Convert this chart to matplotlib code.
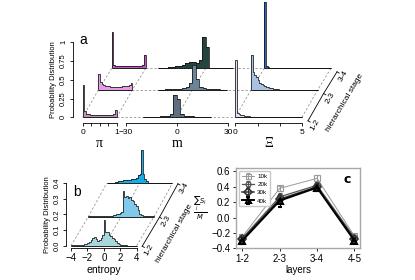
import numpy as np
import matplotlib.pyplot as plt

plt.rcParams['font.family'] = ['Liberation Sans', 'DejaVu Sans']

# ---------------- data ----------------
stages = ['1-2', '2-3', '3-4']

# panel a: probability per bin, one list per hierarchical stage
pi_edges = np.linspace(0, 1, 21)
pi_12 = [0.43, 0.08, 0.05, 0.04, 0.035, 0.03, 0.03, 0.028, 0.028, 0.027,
         0.027, 0.027, 0.028, 0.028, 0.03, 0.03, 0.032, 0.035, 0.04, 0.10]
pi_23 = [0.22, 0.11, 0.08, 0.065, 0.055, 0.05, 0.047, 0.045, 0.043, 0.042,
         0.042, 0.042, 0.043, 0.045, 0.047, 0.05, 0.053, 0.057, 0.065, 0.09]
pi_34 = [0.49, 0.05, 0.035, 0.03, 0.028, 0.026, 0.025, 0.025, 0.025, 0.025,
         0.025, 0.025, 0.026, 0.027, 0.028, 0.03, 0.033, 0.037, 0.045, 0.18]

m_edges = np.linspace(-30, 30, 31)
m_12 = [0, 0, 0, 0, 0, 0.004, 0.005, 0.006, 0.008, 0.010,
        0.013, 0.017, 0.024, 0.040, 0.300, 0.250, 0.040, 0.024, 0.017, 0.013,
        0.010, 0.008, 0.006, 0.005, 0.004, 0, 0, 0, 0, 0]
m_23 = [0, 0, 0, 0, 0, 0.005, 0.006, 0.008, 0.010, 0.012,
        0.015, 0.020, 0.027, 0.040, 0.090, 0.330, 0.150, 0.045, 0.028, 0.020,
        0.015, 0.011, 0.008, 0.006, 0.005, 0, 0, 0, 0, 0]
m_34 = [0, 0.003, 0.005, 0.008, 0.012, 0.018, 0.025, 0.035, 0.050, 0.065,
        0.085, 0.090, 0.075, 0.110, 0.420, 0.280, 0.010, 0.006, 0.005, 0.004,
        0.003, 0.003, 0.002, 0, 0, 0, 0, 0, 0, 0]

xi_edges = np.linspace(0, 5, 41)
xi_12 = [0.77, 0.06, 0.045, 0.035, 0.028, 0.022, 0.018, 0.014, 0.011, 0.009,
         0.007, 0.006, 0.005, 0.004, 0.004, 0.003, 0.003, 0.002, 0.002, 0.002,
         0.002, 0.002, 0.001, 0.001, 0.001, 0.001, 0.001, 0.001, 0.001, 0.001,
         0.001, 0.001, 0.001, 0.001, 0.001, 0.001, 0.001, 0.001, 0.001, 0.001]
xi_23 = [0.47, 0.24, 0.20, 0.17, 0.13, 0.10, 0.085, 0.07, 0.055, 0.045,
         0.035, 0.028, 0.022, 0.017, 0.013, 0.010, 0.008, 0.006, 0.005, 0.004,
         0.003, 0.003, 0.003, 0.003, 0.003, 0.002, 0.002, 0.002, 0.002, 0.002,
         0.002, 0.002, 0.002, 0.002, 0.002, 0.002, 0.002, 0.002, 0.002, 0.002]
xi_34 = [0.89, 0.035, 0.018, 0.010, 0.006, 0.004, 0.003, 0.002, 0.002, 0.002,
         0.002, 0.002, 0.002, 0.002, 0.002, 0.002, 0.002, 0.002, 0.002, 0.002,
         0.002, 0.002, 0.002, 0.002, 0.002, 0.002, 0.002, 0.002, 0.002, 0.002,
         0.002, 0.002, 0.002, 0.002, 0.002, 0.002, 0.002, 0.002, 0.002, 0.002]

# panel b: entropy
ent_edges = np.linspace(-4, 4, 41)
ent_12 = [0.002, 0.002, 0.002, 0.003, 0.003, 0.004, 0.005, 0.007, 0.010, 0.013,
          0.018, 0.025, 0.035, 0.050, 0.058, 0.040, 0.030, 0.035, 0.050, 0.070,
          0.165, 0.090, 0.085, 0.070, 0.060, 0.050, 0.040, 0.030, 0.020, 0.012,
          0.007, 0.004, 0.003, 0.002, 0.001, 0.001, 0.001, 0.001, 0.001, 0.001]
ent_23 = [0.002, 0.002, 0.002, 0.002, 0.002, 0.002, 0.002, 0.002, 0.002, 0.002,
          0.002, 0.003, 0.004, 0.005, 0.007, 0.009, 0.012, 0.015, 0.020, 0.025,
          0.030, 0.165, 0.125, 0.135, 0.120, 0.125, 0.105, 0.100, 0.080, 0.070,
          0.045, 0.020, 0.008, 0.003, 0.002, 0.002, 0.002, 0.002, 0.002, 0.002]
ent_34 = [0.003, 0.003, 0.003, 0.003, 0.005, 0.008, 0.010, 0.012, 0.015, 0.016,
          0.020, 0.018, 0.020, 0.024, 0.022, 0.026, 0.030, 0.028, 0.035, 0.050,
          0.060, 0.215, 0.060, 0.030, 0.012, 0.005, 0.002, 0.002, 0.002, 0.002,
          0.002, 0.002, 0.002, 0.002, 0.002, 0.002, 0.002, 0.002, 0.002, 0.002]

# panel c
layers = ['1-2', '2-3', '3-4', '4-5']
runs = ['10k', '20k', '30k', '40k']
s_10k = [-0.25, 0.38, 0.51, -0.24]
e_10k = [0.04, 0.03, 0.05, 0.03]
s_20k = [-0.27, 0.27, 0.42, -0.26]
e_20k = [0.04, 0.05, 0.05, 0.03]
s_30k = [-0.28, 0.24, 0.40, -0.28]
e_30k = [0.04, 0.06, 0.05, 0.03]
s_40k = [-0.30, 0.22, 0.39, -0.30]
e_40k = [0.05, 0.08, 0.05, 0.03]

# ---------------- figure ----------------
W, H = 415, 280
fig = plt.figure(figsize=(W / 100, H / 100), dpi=100)
PT = 0.72  # points per pixel

# background axes in pixel units for the "floor" lines and labels
bg = fig.add_axes([0, 0, 1, 1])
bg.set_xlim(0, W)
bg.set_ylim(H, 0)
bg.axis('off')

DASH = dict(color='#8c8c8c', lw=0.55, ls=(0, (3, 2.5)))


def px(x, y, w, h):
    return [x / W, 1 - y / H, w / W, h / H]


def hist_ax(left, base, width, height, xlim, ylim, edges, vals, color):
    ax = fig.add_axes(px(left, base, width, height))
    ax.set_xlim(xlim)
    ax.set_ylim(ylim)
    ax.patch.set_visible(False)
    for s in ax.spines.values():
        s.set_visible(False)
    ax.set_xticks([])
    ax.set_yticks([])
    v = np.asarray(vals, float)
    nz = np.nonzero(v)[0]
    v = v[nz[0]:nz[-1] + 1]
    e = edges[nz[0]:nz[-1] + 2]
    ax.stairs(v, e, fill=True, color=color, lw=0, clip_on=False)
    ax.stairs(v, e, color='#111111', lw=0.55, clip_on=False)
    ax.hlines(0, e[0], e[-1], color='#111111', lw=0.65, clip_on=False)
    return ax


def stage_axis(xr, bases, dxs, gx, gy, lab_off, title_pos):
    xs = [xr + d + gx for d in dxs]
    ys = [b + gy for b in bases]
    ang = np.degrees(np.arctan2(ys[0] - ys[-1], xs[-1] - xs[0]))
    sn, cs = np.sin(np.radians(ang)), np.cos(np.radians(ang))
    bg.plot(xs, ys, color='black', lw=0.6)
    for x, y, s in zip(xs, ys, stages):
        bg.plot([x, x + 2.5 * sn], [y, y + 2.5 * cs], color='black', lw=0.6)
        bg.text(x + lab_off * sn, y + lab_off * cs, s, rotation=ang,
                ha='center', va='center', fontsize=6)
    bg.text(title_pos[0], title_pos[1], 'hierarchical stage', rotation=ang,
            ha='center', va='center', fontsize=6)


# ---------------- panel a ----------------
A_BASE = [117.3, 90.0, 68.3]
A_DX = [0.0, 15.6, 29.0]
A_UNIT = 75.0

groups = [
    # label, left px, width px, xlim, edges, rows, colours, ticks, tick labels, diagonals
    ('\u03c0', 82.7, 34.0, (0, 1), pi_edges, [pi_12, pi_23, pi_34],
     ['#b993b9', '#e49ce4', '#c256c4'],
     np.linspace(0, 1, 5), ['0', '', '', '', '1'], [0, 1]),
    ('m', 125.5, 102.5, (-30, 30), m_edges, [m_12, m_23, m_34],
     ['#5d6f80', '#6c8398', '#24443f'],
     [-30, 0, 30], ['\u221230', '0', '30'], [0]),
    ('\u039e', 235.3, 66.7, (0, 5), xi_edges, [xi_12, xi_23, xi_34],
     ['#dedcf2', '#a9c1e2', '#3162b4'],
     np.linspace(0, 5, 4), ['0', '', '', '5'], [0, 5]),
]

# floor lines
for b, d in zip(A_BASE, A_DX):
    bg.plot([82.7 + d, 302.0 + d], [b, b], **DASH)
for name, left, width, xlim, edges, rows, cols, ticks, tlabs, diag in groups:
    for v in diag:
        x0 = left + (v - xlim[0]) / (xlim[1] - xlim[0]) * width
        bg.plot([x0 + d for d in A_DX], A_BASE, **DASH)

front_axes = {}
for r in [2, 1, 0]:
    for name, left, width, xlim, edges, rows, cols, ticks, tlabs, diag in groups:
        ax = hist_ax(left + A_DX[r], A_BASE[r], width, A_UNIT, xlim, (0, 1),
                     edges, rows[r], cols[r])
        if r == 0:
            front_axes[name] = ax
            sp = ax.spines['bottom']
            sp.set_visible(True)
            sp.set_position(('outward', 6 * PT))
            sp.set_bounds(xlim[0], xlim[1])
            sp.set_linewidth(0.6)
            ax.set_xticks(ticks, tlabs)
            ax.tick_params(axis='x', length=2.5, width=0.6, labelsize=6, pad=1.5)
            ax.set_xlabel(name, family=['Liberation Serif', 'DejaVu Serif'],
                          fontsize=10, labelpad=1)

axp = front_axes['\u03c0']
sp = axp.spines['left']
sp.set_visible(True)
sp.set_position(('outward', 10 * PT))
sp.set_bounds(0, 1)
sp.set_linewidth(0.6)
axp.set_yticks([0, 0.25, 0.5, 0.75, 1])
axp.set_yticklabels(['0', '0.25', '0.5', '0.75', '1'], rotation=90, va='center')
axp.tick_params(axis='y', length=2.5, width=0.6, labelsize=5.5, pad=1.5)
axp.set_ylabel('Probability Distribution', fontsize=5.5, labelpad=2)

stage_axis(302.0, A_BASE, A_DX, 6, 3.5, 8, (345, 103))
bg.text(83, 40, 'a', fontsize=10, ha='center', va='center')

# ---------------- panel b ----------------
B_BASE = [245.7, 216.7, 183.3]
B_DX = [0.0, 17.3, 35.7]
B_LEFT, B_W = 71.0, 65.7
B_H = 62.7  # pixels for probability 0.4
ent_rows = [ent_12, ent_23, ent_34]
ent_cols = ['#a7d6dc', '#80c9e8', '#17ade4']

for v in [-4, 0, 4]:
    x0 = B_LEFT + (v + 4) / 8 * B_W
    bg.plot([x0 + d for d in B_DX], B_BASE, **DASH)

for r in [2, 1, 0]:
    ax = hist_ax(B_LEFT + B_DX[r], B_BASE[r], B_W, B_H, (-4, 4), (0, 0.4),
                 ent_edges, ent_rows[r], ent_cols[r])
    if r == 0:
        sp = ax.spines['bottom']
        sp.set_visible(True)
        sp.set_position(('outward', 2 * PT))
        sp.set_bounds(-4, 4)
        sp.set_linewidth(0.6)
        ax.set_xticks([-4, -2, 0, 2, 4], ['\u22124', '\u22122', '0', '2', '4'])
        ax.tick_params(axis='x', length=2.5, width=0.6, labelsize=7, pad=1.5)
        ax.set_xlabel('entropy', fontsize=7.5, labelpad=1)
        sp = ax.spines['left']
        sp.set_visible(True)
        sp.set_position(('outward', 5 * PT))
        sp.set_bounds(0, 0.4)
        sp.set_linewidth(0.6)
        ax.set_yticks([0, 0.1, 0.2, 0.3, 0.4])
        ax.set_yticklabels(['0.0', '0.1', '0.2', '0.3', '0.4'], rotation=90, va='center')
        ax.tick_params(axis='y', length=2.5, width=0.6, labelsize=5.5, pad=1.5)
        ax.set_ylabel('Probability Distribution', fontsize=5.5, labelpad=2)

stage_axis(B_LEFT + B_W, B_BASE, B_DX, 5.5, 0.5, 8, (174, 234))
bg.text(77, 192, 'b', fontsize=10, ha='center', va='center')

# ---------------- panel c ----------------
axc = fig.add_axes(px(236, 248.3, 124, 80.3))
x = np.arange(len(layers))
series = [
    (s_10k, e_10k, '#9a9a9a', 's', 0.7, 0.8),
    (s_20k, e_20k, '#555555', 'o', 0.9, 0.9),
    (s_30k, e_30k, '#333333', 'D', 1.1, 1.2),
    (s_40k, e_40k, 'black', '^', 1.4, 1.5),
]
for (s, e, c, mk, lw, mew), lab in zip(series, runs):
    axc.errorbar(x, s, yerr=e, color=c, marker=mk, mfc='none', ms=4.5, mew=mew,
                 lw=lw, elinewidth=0.8, capsize=1.5, label=lab)
axc.set_xlim(-0.17, 3.15)
axc.set_ylim(-0.4, 0.645)
axc.set_xticks(x, layers)
axc.set_yticks([-0.4, -0.2, 0.0, 0.2, 0.4, 0.6])
axc.tick_params(labelsize=7, length=2.5, width=0.6, pad=1.5)
for s in axc.spines.values():
    s.set_color('#a8a8a8')
    s.set_linewidth(1.0)
axc.set_xlabel('layers', fontsize=7, labelpad=0.5)
axc.set_ylabel(r'$\frac{\sum_i S_i}{M}$', fontsize=7, rotation=0,
               va='center', ha='center', labelpad=8)
axc.legend(loc='upper left', fontsize=4.5, handlelength=2, markerscale=0.8,
           labelspacing=0.45, borderpad=0.4, handletextpad=0.5,
           frameon=True, edgecolor='#c8c8c8', framealpha=1)
axc.text(0.9, 0.86, 'c', transform=axc.transAxes, fontsize=9,
         fontweight='bold', family='DejaVu Sans', ha='center', va='center')

fig.savefig('out.png', dpi=100)
